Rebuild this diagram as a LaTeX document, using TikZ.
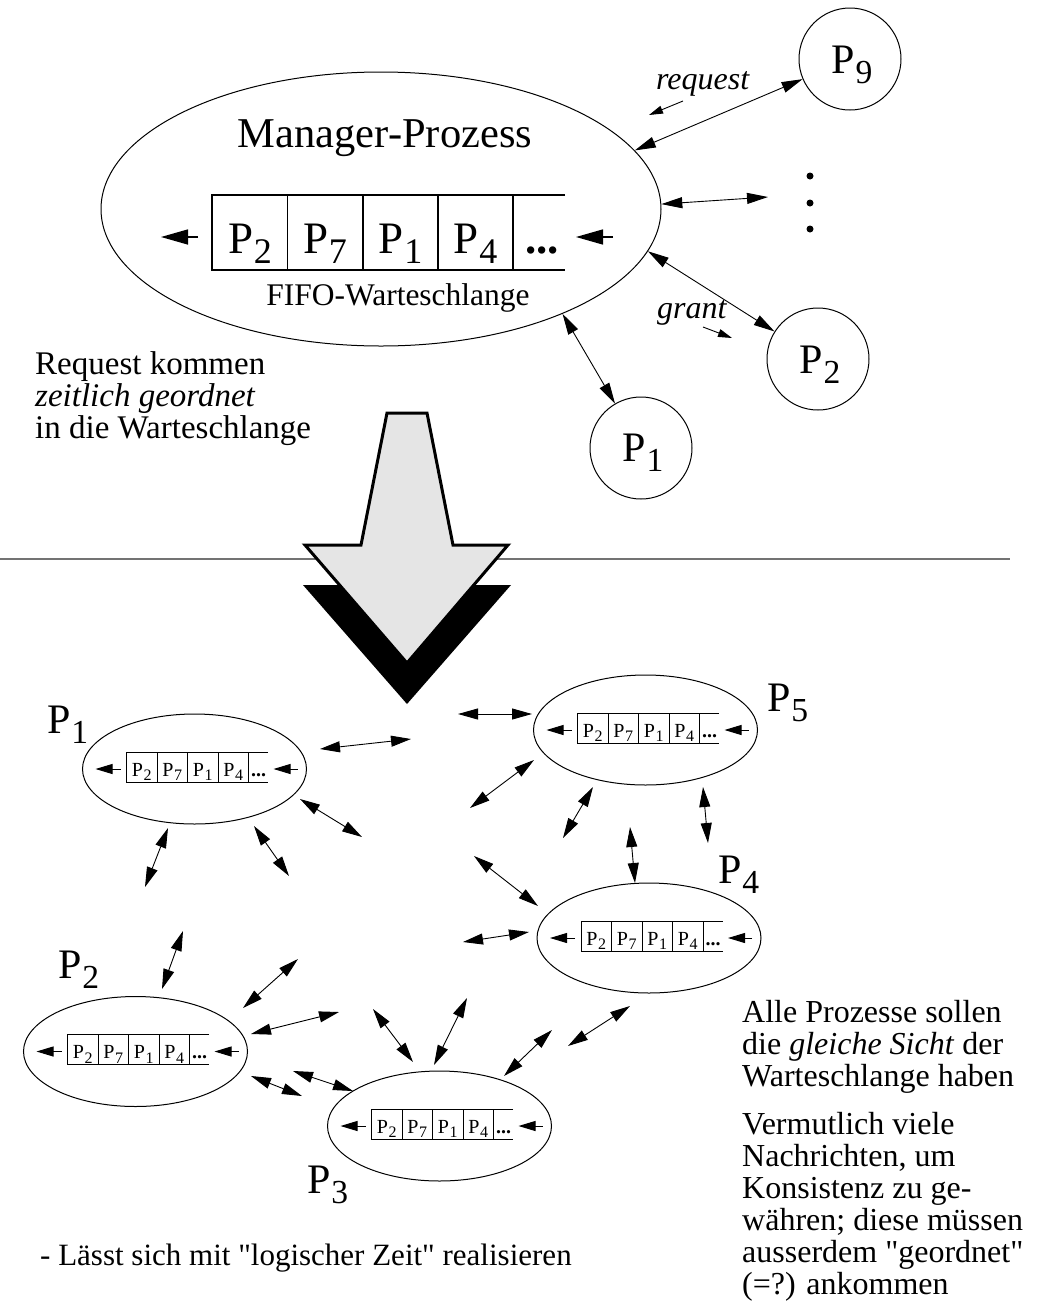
\documentclass[tikz,border=0pt]{standalone}
\usepackage{fontspec}
\usepackage{graphicx}
\setmainfont{Liberation Serif}[Ligatures=TeXOff]
\usetikzlibrary{arrows.meta,shapes.geometric}
\newcommand\Psub[1]{P\kern0.02em\raisebox{-0.24em}{\scalebox{0.8}{#1}}}
\tikzset{
  dblarrow/.style={line width=0.9pt,{Triangle[length=20pt,width=11pt]}-{Triangle[length=20pt,width=11pt]}},
  topdbl/.style={line width=0.9pt,{Triangle[length=21pt,width=11pt]}-{Triangle[length=21pt,width=11pt]}},
  smallarr/.style={line width=0.9pt,-{Triangle[length=14pt,width=8pt]}},
  qarrbig/.style={line width=1.5pt,-{Triangle[length=27pt,width=15pt]}},
  qarrsmall/.style={line width=1pt,-{Triangle[length=17pt,width=10pt]}},
  proc/.style={draw,circle,minimum size=102pt,inner sep=0pt,line width=1pt},
  lbl/.style={font=\fontsize{42}{42}\selectfont,inner sep=0pt,anchor=base},
  lblw/.style={font=\fontsize{42}{42}\selectfont,inner sep=0pt,anchor=base west},
  cellB/.style={font=\fontsize{45}{45}\selectfont,inner sep=0pt,anchor=base},
  cellS/.style={font=\fontsize{20}{20}\selectfont,inner sep=0pt,anchor=base},
  bodyL/.style={font=\fontsize{33}{33}\selectfont,inner sep=0pt,anchor=base west},
  bodyR/.style={font=\fontsize{32}{32}\selectfont,inner sep=0pt,anchor=base west},
  italiclbl/.style={font=\fontsize{32}{32}\selectfont\itshape,inner sep=0pt,anchor=base west},
  smallproc/.pic={
    \node[draw,ellipse,minimum width=224pt,minimum height=110pt,inner sep=0pt,line width=1pt] (-e) at (0,0) {};
    \draw[line width=1pt] (73.5,-17) -- (-68,-17) -- (-68,13) -- (73.5,13);
    \foreach \xx in {-37.5,-7,23.5,54} \draw[line width=1pt] (\xx,-17) -- (\xx,13);
    \node[cellS] (-c1) at (-52.75,7) {\Psub2};
    \node[cellS] (-c2) at (-22.25,7) {\Psub7};
    \node[cellS] (-c3) at (8.25,7) {\Psub1};
    \node[cellS] (-c4) at (38.75,7) {\Psub4};
    \node[cellS] (-c5) at (64,7) {\textbf{...}};
    \coordinate (-la) at (-74,0); \coordinate (-lb) at (-99,0);
    \coordinate (-ra) at (103,0); \coordinate (-rb) at (79,0);
    \draw[qarrsmall] (-la) -- (-lb);
    \draw[qarrsmall] (-ra) -- (-rb);
  }
}
\begin{document}
\begin{tikzpicture}[x=1pt,y=-1pt]
\useasboundingbox (0,0) rectangle (1038,1302);

% ---------- top: manager process ----------
\node[draw,ellipse,minimum width=560pt,minimum height=274pt,inner sep=0pt,line width=1pt] (mgr) at (381,209) {};
\node[font=\fontsize{42.5}{42.5}\selectfont,inner sep=0pt,anchor=base] (mgrtxt) at (385,147) {Manager-Prozess};
\draw[line width=1.2pt] (565,195) -- (212,195) -- (212,270) -- (565,270);
\foreach \xx in {287.5,363,438,513} \draw[line width=1.2pt] (\xx,195) -- (\xx,270);
\node[cellB] (q1) at (250,253) {\Psub2};
\node[cellB] (q2) at (325,253) {\Psub7};
\node[cellB] (q3) at (400.5,253) {\Psub1};
\node[cellB] (q4) at (475.5,253) {\Psub4};
\node[cellB] (q5) at (542,253) {\textbf{...}};
\coordinate (qla) at (198,237); \coordinate (qlb) at (161,237);
\coordinate (qra) at (613,237); \coordinate (qrb) at (576,237);
\draw[qarrbig] (qla) -- (qlb);
\draw[qarrbig] (qra) -- (qrb);
\node[font=\fontsize{31.5}{31.5}\selectfont,inner sep=0pt,anchor=base] (fifo) at (398,305) {FIFO-Warteschlange};

\node[proc] (p9) at (850,59) {};
\node[lbl] (p9t) at (852,73) {\Psub9};
\node[proc] (p2c) at (818,359) {};
\node[lbl] (p2t) at (820,373) {\Psub2};
\node[proc] (p1c) at (641,448) {};
\node[lbl] (p1t) at (643,461) {\Psub1};

\draw[topdbl] (mgr.13.6) -- (p9);
\coordinate (dotsend) at (768,197);
\draw[topdbl] (mgr.1.8) -- (dotsend);
\draw[topdbl] (mgr.-9) -- (p2c);
\draw[topdbl] (mgr.-30.9) -- (p1c);
\fill (810,176) circle[radius=3.5pt];
\fill (810,203) circle[radius=3.5pt];
\fill (810,229) circle[radius=3.5pt];

\node[italiclbl] (req) at (656,89) {request};
\coordinate (rqa) at (683,101); \coordinate (rqb) at (649,115);
\draw[smallarr] (rqa) -- (rqb);
\node[italiclbl] (gr) at (657,318) {grant};
\coordinate (gra) at (703,327); \coordinate (grb) at (732,338);
\draw[smallarr] (gra) -- (grb);

\node[bodyL] (t1) at (35,374) {Request kommen};
\node[bodyL] (t2) at (35,406) {\textit{zeitlich geordnet}};
\node[bodyL] (t3) at (35,438) {in die Warteschlange};

% ---------- separator and big arrow ----------
\draw[black!55,line width=1.3pt] (0,559) -- (1010,559);
\fill[black] (303,585) -- (511,585) -- (407,704) -- cycle;
\draw[line width=3pt,fill=black!10,line join=miter] (387,413) -- (427,413) -- (453,545) -- (508,545) -- (407,663) -- (305,545) -- (361,545) -- cycle;

% ---------- bottom: replicated queues ----------
\pic (s1) at (194.5,769) {smallproc};
\pic (s2) at (135.5,1051.5) {smallproc};
\pic (s3) at (439.5,1126) {smallproc};
\pic (s4) at (649,938) {smallproc};
\pic (s5) at (645.5,730) {smallproc};

\node[lblw] (l1) at (47,733) {\Psub1};
\node[lblw] (l2) at (58,978) {\Psub2};
\node[lblw] (l3) at (307,1193) {\Psub3};
\node[lblw] (l4) at (718,883) {\Psub4};
\node[lblw] (l5) at (767,711) {\Psub5};

\foreach \i/\ax/\ay/\bx/\by in {
  1/458/714/532/714, 2/320/749/411/739, 3/470/808/534/760, 4/563/838/593/787,
  5/703/787/708/843, 6/630/827/635/883, 7/474/856/538/906, 8/463/942/529/932,
  9/300/799/362/837, 10/254/826/289/876, 11/145/887/168/828, 12/162/989/183/931,
  13/243/1008/298/959, 14/251/1034/339/1012, 15/251/1076/302/1096, 16/293/1071/353/1091,
  17/373/1009/413/1062, 18/434/1065/467/998, 19/504/1076/552/1030, 20/568/1046/630/1006}
{
  \coordinate (a\i s) at (\ax,\ay);
  \coordinate (a\i e) at (\bx,\by);
  \draw[dblarrow] (a\i s) -- (a\i e);
}

% ---------- texts ----------
\node[bodyR] (r1) at (742,1022) {Alle Prozesse sollen};
\node[bodyR] (r2) at (742,1054) {die \textit{gleiche Sicht} der};
\node[bodyR] (r3) at (742,1086) {Warteschlange haben};
\node[bodyR] (v1) at (742,1134) {Vermutlich viele};
\node[bodyR] (v2) at (742,1166) {Nachrichten, um};
\node[bodyR] (v3) at (742,1198) {Konsistenz zu ge-};
\node[bodyR] (v4) at (742,1230) {währen; diese müssen};
\node[bodyR] (v5) at (742,1262) {ausserdem "geordnet"};
\node[bodyR] (v6) at (742,1294) {(=?) ankommen};
\node[font=\fontsize{31}{31}\selectfont,inner sep=0pt,anchor=base west] (bl) at (40,1265) {- Lässt sich mit "logischer Zeit" realisieren};
\end{tikzpicture}
\end{document}
